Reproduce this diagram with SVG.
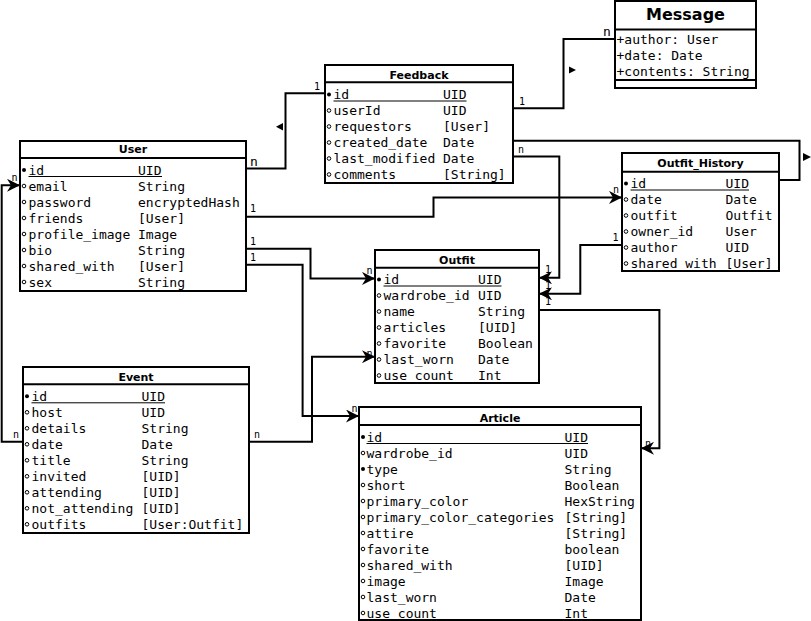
<svg xmlns="http://www.w3.org/2000/svg" width="811" height="621" viewBox="0 0 811 621">
<defs>
<style>
.box{fill:#fff;stroke:#000;stroke-width:2}
.sep{stroke:#000;stroke-width:2}
.ul{stroke:#000;stroke-width:1}
.hdr{font-family:"DejaVu Sans",sans-serif;font-weight:bold;font-size:11px;text-anchor:middle;fill:#000}
.t{font-family:"DejaVu Sans Mono",monospace;font-size:13px;fill:#000}
.lb{font-family:"DejaVu Sans Mono",monospace;font-size:10px;fill:#000}
.lbb{font-family:"DejaVu Sans Mono",monospace;font-size:13px;fill:#000}
.c{fill:none;stroke:#000;stroke-width:2}
.o{fill:#fff;stroke:#000;stroke-width:1}
.f{fill:#000}
</style>
<marker id="arr" markerUnits="userSpaceOnUse" markerWidth="13" markerHeight="13" viewBox="0 0 13 13" refX="13" refY="6.5" orient="auto">
<path d="M0,0 L13,6.5 L0,13 L4,6.5 z" fill="#000"/>
</marker>
</defs>
<rect width="811" height="621" fill="#fff"/>

<g id="connectors">
<path class="c" d="M246,168.5 H285.5 V93.3 H325"/>
<polygon points="276,126.7 283,123 283,130.5" fill="#000"/>
<text class="lbb" x="250" y="166">n</text>
<text class="lb" x="314" y="90">1</text>

<path class="c" d="M513,108.3 H563.5 V39 H615"/>
<polygon points="569,66.5 576,70 569,73.5" fill="#000"/>
<text class="lb" x="519" y="105">1</text>
<text class="lbb" x="603" y="36">n</text>

<path class="c" d="M513,140.7 H799.5 V180 H779"/>
<polygon points="803,153 811,157 803,161" fill="#000"/>

<path class="c" d="M513,156.6 H559.3 V277.8 H539" marker-end="url(#arr)"/>
<text class="lb" x="518" y="153">n</text>
<text class="lb" x="545" y="273">1</text>

<path class="c" d="M246,216.8 H433.5 V197.4 H622" marker-end="url(#arr)"/>
<text class="lb" x="250" y="212">1</text>
<text class="lb" x="613" y="192.5">n</text>

<path class="c" d="M246,248.8 H310.5 V278.4 H375" marker-end="url(#arr)"/>
<text class="lb" x="250" y="245">1</text>
<text class="lb" x="366.5" y="274">n</text>

<path class="c" d="M246,264.8 H302.6 V416 H359" marker-end="url(#arr)"/>
<text class="lb" x="250" y="260.5">1</text>
<text class="lb" x="351.5" y="412">n</text>

<path class="c" d="M249,441.7 H312 V356.7 H375" marker-end="url(#arr)"/>
<text class="lb" x="254" y="438">n</text>
<text class="lb" x="366.5" y="357">n</text>

<path class="c" d="M23,441.7 H1.7 V185.3 H20" marker-end="url(#arr)"/>
<text class="lb" x="13" y="438">n</text>
<text class="lb" x="11.5" y="180.5">n</text>

<path class="c" d="M622,245 H580.3 V293.8 H539" marker-end="url(#arr)"/>
<text class="lb" x="612.5" y="240.5">1</text>
<text class="lb" x="545" y="288.5">1</text>

<path class="c" d="M539,310 H659.4 V448.3 H641" marker-end="url(#arr)"/>
<text class="lb" x="545" y="305">1</text>
<text class="lb" x="645" y="447">n</text>
</g>

<g id="user">
<rect class="box" x="20" y="141" width="226" height="150"/>
<line class="sep" x1="20" y1="158" x2="246" y2="158"/>
<text class="hdr" x="133" y="153">User</text>
<circle class="f" cx="24" cy="170" r="2"/>
<circle class="o" cx="24" cy="186" r="1.8"/>
<circle class="o" cx="24" cy="202" r="1.8"/>
<circle class="o" cx="24" cy="218" r="1.8"/>
<circle class="o" cx="24" cy="234" r="1.8"/>
<circle class="o" cx="24" cy="250" r="1.8"/>
<circle class="o" cx="24" cy="266" r="1.8"/>
<circle class="o" cx="24" cy="282" r="1.8"/>
<line class="ul" x1="28.5" y1="176.5" x2="162" y2="176.5"/>
<text class="t" x="28.5" y="174.5">id</text><text class="t" x="138" y="174.5">UID</text>
<text class="t" x="28.5" y="190.5">email</text><text class="t" x="138" y="190.5">String</text>
<text class="t" x="28.5" y="206.5">password</text><text class="t" x="138" y="206.5">encryptedHash</text>
<text class="t" x="28.5" y="222.5">friends</text><text class="t" x="138" y="222.5">[User]</text>
<text class="t" x="28.5" y="238.5">profile_image</text><text class="t" x="138" y="238.5">Image</text>
<text class="t" x="28.5" y="254.5">bio</text><text class="t" x="138" y="254.5">String</text>
<text class="t" x="28.5" y="270.5">shared_with</text><text class="t" x="138" y="270.5">[User]</text>
<text class="t" x="28.5" y="286.5">sex</text><text class="t" x="138" y="286.5">String</text>
</g>

<g id="feedback">
<rect class="box" x="325" y="65" width="188" height="118"/>
<line class="sep" x1="325" y1="82.3" x2="513" y2="82.3"/>
<text class="hdr" x="419" y="79">Feedback</text>
<circle class="f" cx="329" cy="94.5" r="2"/>
<circle class="o" cx="329" cy="110.5" r="1.8"/>
<circle class="o" cx="329" cy="126.5" r="1.8"/>
<circle class="o" cx="329" cy="142.5" r="1.8"/>
<circle class="o" cx="329" cy="158.5" r="1.8"/>
<circle class="o" cx="329" cy="174.5" r="1.8"/>
<line class="ul" x1="333.5" y1="101" x2="466.5" y2="101"/>
<text class="t" x="333.5" y="99">id</text><text class="t" x="443" y="99">UID</text>
<text class="t" x="333.5" y="115">userId</text><text class="t" x="443" y="115">UID</text>
<text class="t" x="333.5" y="131">requestors</text><text class="t" x="443" y="131">[User]</text>
<text class="t" x="333.5" y="147">created_date</text><text class="t" x="443" y="147">Date</text>
<text class="t" x="333.5" y="163">last_modified</text><text class="t" x="443" y="163">Date</text>
<text class="t" x="333.5" y="179">comments</text><text class="t" x="443" y="179">[String]</text>
</g>

<g id="message">
<rect class="box" x="615" y="1" width="141" height="87"/>
<line class="sep" x1="615" y1="29.5" x2="756" y2="29.5"/>
<line class="sep" x1="615" y1="80" x2="756" y2="80"/>
<text x="685.5" y="20" style="font-family:'DejaVu Sans',sans-serif;font-weight:bold;font-size:16px;text-anchor:middle">Message</text>
<text class="t" x="616.5" y="43.5">+author: User</text>
<text class="t" x="616.5" y="59.5">+date: Date</text>
<text class="t" x="616.5" y="75.5">+contents: String</text>
</g>

<g id="outfit_history">
<rect class="box" x="622" y="153" width="157" height="118"/>
<line class="sep" x1="622" y1="171.7" x2="779" y2="171.7"/>
<text class="hdr" x="700.5" y="167.3">Outfit_History</text>
<circle class="f" cx="626" cy="183.5" r="2"/>
<circle class="o" cx="626" cy="199.5" r="1.8"/>
<circle class="o" cx="626" cy="215.5" r="1.8"/>
<circle class="o" cx="626" cy="231.5" r="1.8"/>
<circle class="o" cx="626" cy="247.5" r="1.8"/>
<circle class="o" cx="626" cy="263.5" r="1.8"/>
<line class="ul" x1="630.5" y1="190" x2="749" y2="190"/>
<text class="t" x="630.5" y="188">id</text><text class="t" x="725.5" y="188">UID</text>
<text class="t" x="630.5" y="204">date</text><text class="t" x="725.5" y="204">Date</text>
<text class="t" x="630.5" y="220">outfit</text><text class="t" x="725.5" y="220">Outfit</text>
<text class="t" x="630.5" y="236">owner_id</text><text class="t" x="725.5" y="236">User</text>
<text class="t" x="630.5" y="252">author</text><text class="t" x="725.5" y="252">UID</text>
<text class="t" x="630.5" y="268">shared_with</text><text class="t" x="725.5" y="268">[User]</text>
</g>

<g id="outfit">
<rect class="box" x="375" y="250" width="164" height="133"/>
<line class="sep" x1="375" y1="267.7" x2="539" y2="267.7"/>
<text class="hdr" x="457" y="263.5">Outfit</text>
<circle class="f" cx="379" cy="279.5" r="2"/>
<circle class="o" cx="379" cy="295.5" r="1.8"/>
<circle class="o" cx="379" cy="311.5" r="1.8"/>
<circle class="o" cx="379" cy="327.5" r="1.8"/>
<circle class="o" cx="379" cy="343.5" r="1.8"/>
<circle class="o" cx="379" cy="359.5" r="1.8"/>
<circle class="o" cx="379" cy="375.5" r="1.8"/>
<line class="ul" x1="383.5" y1="286" x2="501.5" y2="286"/>
<text class="t" x="383.5" y="284">id</text><text class="t" x="478" y="284">UID</text>
<text class="t" x="383.5" y="300">wardrobe_id</text><text class="t" x="478" y="300">UID</text>
<text class="t" x="383.5" y="316">name</text><text class="t" x="478" y="316">String</text>
<text class="t" x="383.5" y="332">articles</text><text class="t" x="478" y="332">[UID]</text>
<text class="t" x="383.5" y="348">favorite</text><text class="t" x="478" y="348">Boolean</text>
<text class="t" x="383.5" y="364">last_worn</text><text class="t" x="478" y="364">Date</text>
<text class="t" x="383.5" y="380">use_count</text><text class="t" x="478" y="380">Int</text>
</g>

<g id="event">
<rect class="box" x="23" y="367" width="226" height="166"/>
<line class="sep" x1="23" y1="384.3" x2="249" y2="384.3"/>
<text class="hdr" x="136" y="381">Event</text>
<circle class="f" cx="27" cy="396.3" r="2"/>
<circle class="o" cx="27" cy="412.3" r="1.8"/>
<circle class="o" cx="27" cy="428.3" r="1.8"/>
<circle class="o" cx="27" cy="444.3" r="1.8"/>
<circle class="o" cx="27" cy="460.3" r="1.8"/>
<circle class="o" cx="27" cy="476.3" r="1.8"/>
<circle class="o" cx="27" cy="492.3" r="1.8"/>
<circle class="o" cx="27" cy="508.3" r="1.8"/>
<circle class="o" cx="27" cy="524.3" r="1.8"/>
<line class="ul" x1="31.5" y1="402.8" x2="165" y2="402.8"/>
<text class="t" x="31.5" y="400.8">id</text><text class="t" x="141.5" y="400.8">UID</text>
<text class="t" x="31.5" y="416.8">host</text><text class="t" x="141.5" y="416.8">UID</text>
<text class="t" x="31.5" y="432.8">details</text><text class="t" x="141.5" y="432.8">String</text>
<text class="t" x="31.5" y="448.8">date</text><text class="t" x="141.5" y="448.8">Date</text>
<text class="t" x="31.5" y="464.8">title</text><text class="t" x="141.5" y="464.8">String</text>
<text class="t" x="31.5" y="480.8">invited</text><text class="t" x="141.5" y="480.8">[UID]</text>
<text class="t" x="31.5" y="496.8">attending</text><text class="t" x="141.5" y="496.8">[UID]</text>
<text class="t" x="31.5" y="512.8">not_attending</text><text class="t" x="141.5" y="512.8">[UID]</text>
<text class="t" x="31.5" y="528.8">outfits</text><text class="t" x="141.5" y="528.8">[User:Outfit]</text>
</g>

<g id="article">
<rect class="box" x="359" y="407" width="282" height="213"/>
<line class="sep" x1="359" y1="425" x2="641" y2="425"/>
<text class="hdr" x="500" y="421.5">Article</text>
<circle class="f" cx="363" cy="437" r="2"/>
<circle class="o" cx="363" cy="453" r="1.8"/>
<circle class="f" cx="363" cy="469" r="2"/>
<circle class="o" cx="363" cy="485" r="1.8"/>
<circle class="o" cx="363" cy="501" r="1.8"/>
<circle class="o" cx="363" cy="517" r="1.8"/>
<circle class="o" cx="363" cy="533" r="1.8"/>
<circle class="o" cx="363" cy="549" r="1.8"/>
<circle class="o" cx="363" cy="565" r="1.8"/>
<circle class="o" cx="363" cy="581" r="1.8"/>
<circle class="o" cx="363" cy="597" r="1.8"/>
<circle class="o" cx="363" cy="613" r="1.8"/>
<line class="ul" x1="366.5" y1="443.5" x2="588" y2="443.5"/>
<text class="t" x="366.5" y="441.5">id</text><text class="t" x="564.5" y="441.5">UID</text>
<text class="t" x="366.5" y="457.5">wardrobe_id</text><text class="t" x="564.5" y="457.5">UID</text>
<text class="t" x="366.5" y="473.5">type</text><text class="t" x="564.5" y="473.5">String</text>
<text class="t" x="366.5" y="489.5">short</text><text class="t" x="564.5" y="489.5">Boolean</text>
<text class="t" x="366.5" y="505.5">primary_color</text><text class="t" x="564.5" y="505.5">HexString</text>
<text class="t" x="366.5" y="521.5">primary_color_categories</text><text class="t" x="564.5" y="521.5">[String]</text>
<text class="t" x="366.5" y="537.5">attire</text><text class="t" x="564.5" y="537.5">[String]</text>
<text class="t" x="366.5" y="553.5">favorite</text><text class="t" x="564.5" y="553.5">boolean</text>
<text class="t" x="366.5" y="569.5">shared_with</text><text class="t" x="564.5" y="569.5">[UID]</text>
<text class="t" x="366.5" y="585.5">image</text><text class="t" x="564.5" y="585.5">Image</text>
<text class="t" x="366.5" y="601.5">last_worn</text><text class="t" x="564.5" y="601.5">Date</text>
<text class="t" x="366.5" y="617.5">use_count</text><text class="t" x="564.5" y="617.5">Int</text>
</g>
</svg>
